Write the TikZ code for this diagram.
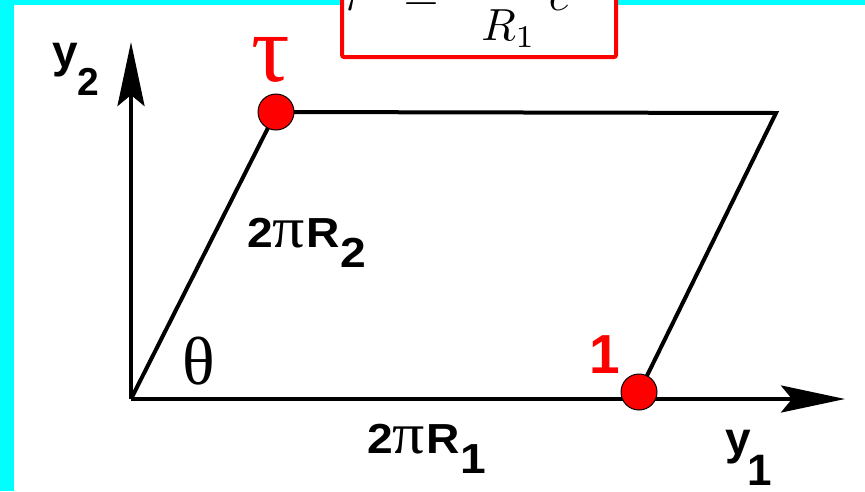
\documentclass[tikz,border=0pt]{standalone}
\usepackage{fontspec}
\newfontfamily\lsans{Liberation Sans}
\newfontfamily\lserif{Liberation Serif}
\usetikzlibrary{arrows.meta}
\definecolor{bgcyan}{RGB}{0,255,255}
\definecolor{dotred}{RGB}{255,0,0}
\begin{document}
\begin{tikzpicture}[x=1pt,y=-1pt,
  axis/.style={line width=4pt,-{Stealth[length=64pt,width=27pt,inset=11pt]}},
  side/.style={line width=4pt},
  dot/.style={circle,fill=dotred,draw=black,line width=1pt,minimum size=36pt,inner sep=0pt},
  lbl/.style={inner sep=0pt,anchor=base west,font=\lsans\bfseries},
  glyph/.style={inner sep=0pt,anchor=center}]
\useasboundingbox (0,0) rectangle (865,491);
\clip (0,0) rectangle (865,491);
\fill[bgcyan] (0,0) rectangle (865,491);
\fill[white] (14,5) rectangle (870,496);
% formula box (cut at top)
\draw[dotred,line width=4pt,fill=white,rounded corners=2pt] (342,57) rectangle (616,-80);
\node[inner sep=0pt,anchor=base] (formula) at (472,10)
  {\scalebox{4.5}{$\displaystyle \tau \;\;=\;\; \frac{R_2}{R_1}\, e^{i\theta}$}};
% points
\coordinate (O) at (131,399);
\coordinate (T) at (276,112);
\coordinate (TR) at (776,113);
\coordinate (B) at (639,392);
\coordinate (Y2) at (131,42);
\coordinate (Y1) at (845,399);
% parallelogram
\draw[side] (O) -- (T) -- (TR) -- (B);
% axes
\draw[axis] (O) -- (Y2);
\draw[axis] (O) -- (Y1);
% dots
\node[dot] (tau) at (T) {};
\node[dot] (one) at (B) {};
% labels
\node[lbl] (y2lab) at (52,67) {\fontsize{46}{50}\selectfont y\raisebox{-28pt}{\fontsize{39}{40}\selectfont 2}};
\node[lbl] (y1lab) at (725,454) {\fontsize{46}{50}\selectfont y\hspace{-3pt}\raisebox{-31pt}{\fontsize{44}{46}\selectfont 1}};
\node[lbl] (r2lab) at (247,247) {\scalebox{1.1}[1]{\fontsize{42}{44}\selectfont 2{\lserif\mdseries\fontsize{58}{58}\selectfont π}\hspace{1pt}R\hspace{1pt}\raisebox{-20pt}{2}}};
\node[lbl] (r1lab) at (367,453) {\scalebox{1.1}[1]{\fontsize{42}{44}\selectfont 2{\lserif\mdseries\fontsize{58}{58}\selectfont π}\hspace{1pt}R\hspace{1pt}\raisebox{-20pt}{1}}};
\node[glyph] (thlab) at (198.5,361) {\lserif\fontsize{68}{70}\selectfont θ};
\node[glyph,text=dotred] (taulab) at (270.5,59.5) {\lserif\fontsize{96}{96}\selectfont τ};
\node[glyph,text=dotred] (onelab) at (605,354.5) {\lsans\bfseries\fontsize{55}{55}\selectfont 1};
\end{tikzpicture}
\end{document}
